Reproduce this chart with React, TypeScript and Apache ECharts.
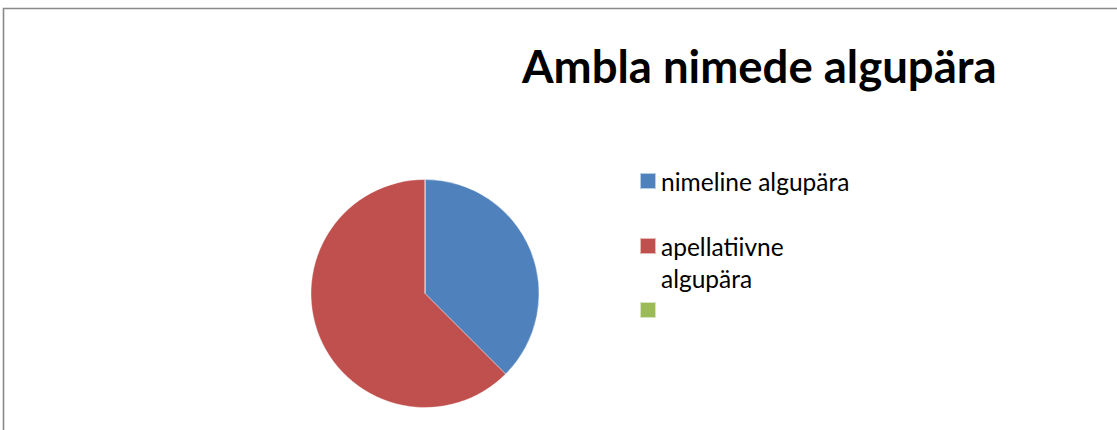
import React, { useEffect, useRef } from "react";
import * as echarts from "echarts";

const titleText = "Ambla nimede algupära";
const categories = ["nimeline algupära", "apellatiivne algupära", " "];
const values = [3, 5, 0];
const colors = ["#4F81BD", "#C0504D", "#9BBB59"];

export default function App() {
  const ref = useRef<HTMLDivElement>(null);
  useEffect(() => {
    document.body.style.margin = "0";
    const chart = echarts.init(ref.current!, null, { renderer: "svg" });
    const legendFont = { fontFamily: "Lato", fontSize: 24.5, color: "#000", lineHeight: 32 };
    chart.setOption({
      animation: false,
      backgroundColor: "#fff",
      title: {
        text: titleText,
        left: 522,
        top: 42,
        padding: 0,
        textStyle: { fontFamily: "Lato", fontWeight: "bold", fontSize: 45.5, color: "#000" },
      },
      graphic: [
        {
          type: "rect",
          shape: { x: 3.5, y: 8.5, width: 2000, height: 1000 },
          style: { fill: "none", stroke: "#898989", lineWidth: 1.6 },
          silent: true,
        },
      ],
      legend: [
        {
          data: [categories[0]],
          orient: "vertical",
          left: 639,
          top: 165,
          padding: 0,
          itemWidth: 16,
          itemHeight: 16,
          icon: "rect",
          textStyle: legendFont,
        },
        {
          data: [categories[1]],
          orient: "vertical",
          left: 639,
          top: 198,
          padding: 0,
          itemWidth: 16,
          itemHeight: 16,
          icon: "rect",
          formatter: (n: string) => " \n" + n.replace(" ", "\n"),
          textStyle: legendFont,
        },
        {
          data: [categories[2]],
          orient: "vertical",
          left: 639,
          top: 294,
          padding: 0,
          itemWidth: 16,
          itemHeight: 16,
          icon: "rect",
          textStyle: legendFont,
        },
      ],
      series: [
        {
          type: "pie",
          center: [425, 293.5],
          radius: 114,
          startAngle: 90,
          clockwise: true,
          label: { show: false },
          labelLine: { show: false },
          emphasis: { disabled: true },
          itemStyle: { borderColor: "rgba(255,255,255,0.6)", borderWidth: 0.6 },
          data: categories.map((name, i) => ({
            name,
            value: values[i],
            itemStyle: { color: colors[i] },
          })),
        },
      ],
    });
    return () => chart.dispose();
  }, []);
  return <div ref={ref} style={{ width: 1117, height: 430 }} />;
}
